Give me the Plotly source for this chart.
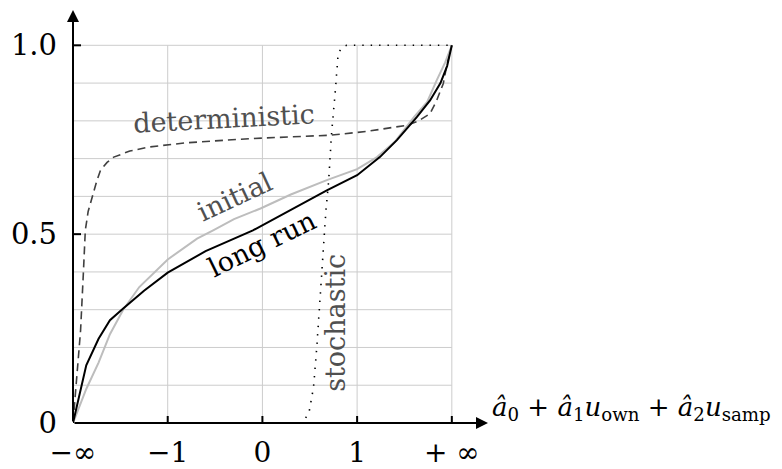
import plotly.graph_objects as go

# ---- data (x: -2 = -inf, +2 = +inf) ----
long_run_x = [-2, -1.86, -1.73, -1.61, -1.47, -1.25, -1.0, -0.6, -0.1, 0.3, 0.68, 1.0, 1.24, 1.42, 1.63, 1.77, 1.88, 1.95, 2.0]
long_run_y = [0, 0.153, 0.223, 0.272, 0.303, 0.35, 0.398, 0.455, 0.51, 0.565, 0.616, 0.656, 0.704, 0.749, 0.81, 0.854, 0.90, 0.945, 1.0]

initial_x = [-2, -1.86, -1.73, -1.61, -1.47, -1.3, -1.0, -0.69, -0.52, -0.3, -0.02, 0.3, 0.68, 1.0, 1.21, 1.4, 1.6, 1.74, 1.84, 1.93, 2.0]
initial_y = [0, 0.09, 0.16, 0.235, 0.30, 0.36, 0.433, 0.488, 0.51, 0.54, 0.568, 0.605, 0.643, 0.672, 0.704, 0.745, 0.81, 0.85, 0.907, 0.955, 1.0]

deterministic_x = [-2, -1.96, -1.92, -1.89, -1.87, -1.84, -1.80, -1.75, -1.71, -1.64, -1.57, -1.4, -1.19, -0.8, -0.13, 0.3, 0.715, 1.1, 1.52, 1.65, 1.77, 1.84, 1.91, 1.95, 1.98, 2.0]
deterministic_y = [0, 0.12, 0.245, 0.40, 0.51, 0.56, 0.598, 0.64, 0.669, 0.69, 0.704, 0.72, 0.731, 0.742, 0.753, 0.757, 0.762, 0.772, 0.788, 0.80, 0.819, 0.854, 0.899, 0.951, 0.98, 1.0]

stochastic_x = [-2, 0.416, 0.49, 0.54, 0.574, 0.61, 0.645, 0.67, 0.70, 0.73, 0.77, 0.80, 0.84, 0.89, 2.0]
stochastic_y = [0, 0, 0.025, 0.095, 0.20, 0.334, 0.484, 0.56, 0.643, 0.766, 0.88, 0.978, 0.995, 1.0, 1.0]

x_tickvals = [-2, -1, 0, 1, 2]
x_ticktext = ["\u2212\u221e", "\u22121", "0", "1", "+ \u221e"]
y_tickvals = [0, 0.5, 1.0]
y_ticktext = ["0", "0.5", "1.0"]

x_grid = [-1, 0, 1, 2]
y_grid = [0.1, 0.2, 0.3, 0.4, 0.5, 0.6, 0.7, 0.8, 0.9, 1.0]

x_tickmarks = [-1, 0, 1, 2]
y_tickmarks = [0.5, 1.0]

x_axis_label = "<i>\u00e2</i><sub>0</sub> + <i>\u00e2</i><sub>1</sub><i>u</i><sub>own</sub> + <i>\u00e2</i><sub>2</sub><i>u</i><sub>samp</sub>"

FONT = "'DejaVu Serif', serif"
XMIN, XMAX = -2, 2.382
YMIN, YMAX = 0, 1.0935

fig = go.Figure()

fig.add_trace(go.Scatter(x=deterministic_x, y=deterministic_y, mode="lines",
                         line=dict(color="#404040", width=1.6, dash="8px,5px"), cliponaxis=False))
fig.add_trace(go.Scatter(x=stochastic_x, y=stochastic_y, mode="lines",
                         line=dict(color="black", width=1.6, dash="1.4px,7px"), cliponaxis=False))
fig.add_trace(go.Scatter(x=initial_x, y=initial_y, mode="lines",
                         line=dict(color="#bdbdbd", width=2), cliponaxis=False))
fig.add_trace(go.Scatter(x=long_run_x, y=long_run_y, mode="lines",
                         line=dict(color="black", width=2), cliponaxis=False))

shapes = []
for gx in x_grid:
    shapes.append(dict(type="line", xref="x", yref="y", x0=gx, x1=gx, y0=0, y1=max(y_grid),
                       line=dict(color="#cccccc", width=1), layer="below"))
for gy in y_grid:
    shapes.append(dict(type="line", xref="x", yref="y", x0=min(x_tickvals), x1=max(x_tickvals), y0=gy, y1=gy,
                       line=dict(color="#cccccc", width=1), layer="below"))
for tx in x_tickmarks:
    shapes.append(dict(type="line", xref="x", yref="y", ysizemode="pixel", yanchor=0,
                       x0=tx, x1=tx, y0=-7, y1=7, line=dict(color="black", width=2)))
for ty in y_tickmarks:
    shapes.append(dict(type="line", xref="x", yref="y", xsizemode="pixel", xanchor=-2,
                       y0=ty, y1=ty, x0=-8, x1=8, line=dict(color="black", width=2)))

annotations = [
    # axes with arrows
    dict(x=XMAX, y=0, ax=XMIN, ay=0, xref="x", yref="y", axref="x", ayref="y", text="",
         showarrow=True, arrowhead=2, arrowsize=1.2, arrowwidth=2, arrowcolor="black"),
    dict(x=XMIN, y=YMAX, ax=XMIN, ay=0, xref="x", yref="y", axref="x", ayref="y", text="",
         showarrow=True, arrowhead=2, arrowsize=1.2, arrowwidth=2, arrowcolor="black"),
    dict(x=1.004, y=0, xref="paper", yref="paper", xanchor="left", yanchor="middle", yshift=15,
         text=x_axis_label, showarrow=False, font=dict(family=FONT, size=26, color="black")),
    dict(x=-0.404, y=0.807, xref="x", yref="y", text="deterministic", showarrow=False,
         textangle=-3, font=dict(family=FONT, size=27, color="#505050")),
    dict(x=-0.29, y=0.60, xref="x", yref="y", text="initial", showarrow=False,
         textangle=-25, font=dict(family=FONT, size=27, color="#505050")),
    dict(x=0.0, y=0.475, xref="x", yref="y", text="long run", showarrow=False,
         textangle=-26, font=dict(family=FONT, size=27, color="black")),
    dict(x=0.77, y=0.266, xref="x", yref="y", text="stochastic", showarrow=False,
         textangle=-90, font=dict(family=FONT, size=27, color="#505050")),
]

# page body has an 8px default margin: figure is offset by 8px in the window
fig.update_layout(
    width=774, height=461,
    margin=dict(l=65, r=294, t=2, b=46, pad=0, autoexpand=False),
    paper_bgcolor="white", plot_bgcolor="white",
    showlegend=False,
    font=dict(family=FONT),
    shapes=shapes, annotations=annotations,
    xaxis=dict(range=[XMIN, XMAX], showgrid=False, zeroline=False, showline=False, automargin=False,
               tickmode="array", tickvals=x_tickvals, ticktext=x_ticktext, ticks="",
               ticklabelstandoff=10, tickfont=dict(family=FONT, size=28, color="black")),
    yaxis=dict(range=[YMIN, YMAX], showgrid=False, zeroline=False, showline=False, automargin=False,
               tickmode="array", tickvals=y_tickvals, ticktext=y_ticktext, ticks="",
               ticklabelstandoff=15, tickfont=dict(family=FONT, size=29, color="black")),
)

fig.write_html("out.html")
